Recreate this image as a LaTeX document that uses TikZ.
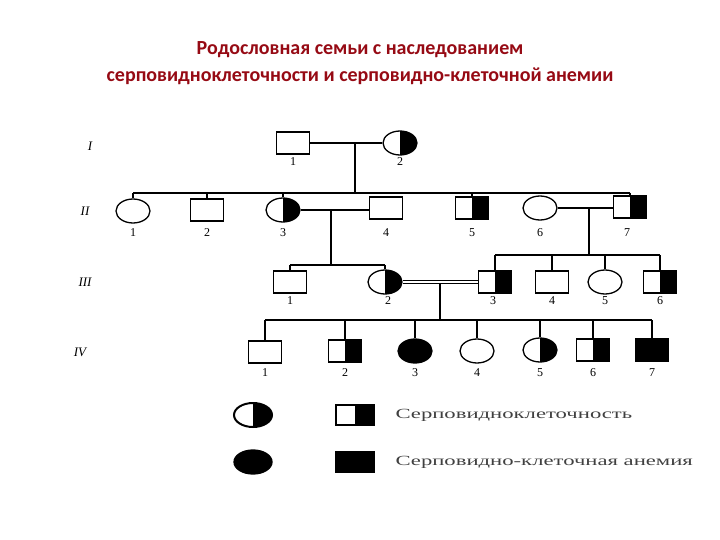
\documentclass[tikz,border=0pt]{standalone}
\usepackage{fontspec}
\setmainfont{Liberation Serif}
\newfontfamily\titlefont{Carlito}
\usetikzlibrary{shapes.geometric}
\begin{document}
\begin{tikzpicture}[x=1pt,y=-1pt,
  sq/.style={draw,line width=1.3pt,rectangle,minimum width=33pt,minimum height=22pt,inner sep=0pt},
  ci/.style={draw,line width=1.3pt,ellipse,minimum width=34pt,minimum height=24pt,inner sep=0pt},
  half/.style={path picture={\fill (path picture bounding box.north) rectangle (path picture bounding box.south east);}},
  full/.style={fill=black},
  num/.style={font=\fontsize{12}{12}\selectfont},
  gen/.style={font=\fontsize{13}{13}\selectfont\itshape},
  ln/.style={line width=1.3pt},
  tk/.style={line width=2pt},
  leg/.style={font=\fontsize{14}{14}\selectfont, text=black!75, anchor=west}]
\useasboundingbox (0,0) rectangle (720,540);
\node[font=\titlefont\bfseries\fontsize{20}{27}\selectfont, text={rgb,255:red,150;green,10;blue,20}, align=center] (title) at (360,63) {Родословная семьи с наследованием\\серповидноклеточности и серповидно-клеточной анемии};
% generation labels
\node[gen] (g1) at (90,146) {I};
\node[gen] (g2) at (85,211) {II};
\node[gen] (g3) at (85,282) {III};
\node[gen] (g4) at (80,352) {IV};
% Gen I
\node[sq] (a1) at (293,143) {};
\node[ci,half] (a2) at (400,143) {};
\node[num] at (293,162) {1};
\node[num] at (400,162) {2};
% Gen II
\node[ci] (b1) at (133,211) {};
\node[sq] (b2) at (207,210) {};
\node[ci,half] (b3) at (283,210) {};
\node[sq] (b4) at (386,208) {};
\node[sq,half] (b5) at (472,208) {};
\node[ci] (b6) at (540,208) {};
\node[sq,half] (b7) at (630,207) {};
\foreach \x/\n in {133/1,207/2,283/3,386/4,472/5,540/6,627/7} \node[num] at (\x,233) {\n};
% Gen III
\node[sq] (c1) at (290,282) {};
\node[ci,half] (c2) at (385,282) {};
\node[sq,half] (c3) at (495,282) {};
\node[sq] (c4) at (552,282) {};
\node[ci] (c5) at (605,282) {};
\node[sq,half] (c6) at (660,282) {};
\foreach \x/\n in {290/1,388/2,493/3,552/4,605/5,660/6} \node[num] at (\x,301) {\n};
% Gen IV
\node[sq] (d1) at (265,352) {};
\node[sq,half] (d2) at (345,351) {};
\node[ci,full] (d3) at (415,351) {};
\node[ci] (d4) at (477,351) {};
\node[ci,half] (d5) at (540,350) {};
\node[sq,half] (d6) at (593,350) {};
\node[sq,full] (d7) at (652,350) {};
\foreach \x/\n in {265/1,345/2,415/3,477/4,540/5,593/6,652/7} \node[num] at (\x,373) {\n};
% connectors gen I
\draw[ln] (a1.east) -- (a2.west);
\coordinate (m1) at (355,143);
\coordinate (s1) at (355,193);
\draw[ln] (m1) -- (s1);
\draw[ln] (b1.north |- s1) -- (b7.north |- s1);
\foreach \t in {b1,b2,b3,b5,b7} \draw[ln] (\t.north |- s1) -- (\t);
% II3 x II4
\draw[tk] (b3.east) -- (b3.east -| b4.west);
\coordinate (m2) at (331,210);
\coordinate (s2) at (331,265);
\draw[tk] (m2) -- (s2);
\draw[ln] (c1.north |- s2) -- (c2.north |- s2);
\foreach \t in {c1,c2} \draw[ln] (\t.north |- s2) -- (\t);
% II6 x II7
\draw[ln] (b6.east) -- (b6.east -| b7.west);
\coordinate (m3) at (589,208);
\coordinate (s3) at (589,255);
\draw[ln] (m3) -- (s3);
\draw[ln] (c3.north |- s3) -- (c6.north |- s3);
\foreach \t in {c3,c4,c5,c6} \draw[ln] (\t.north |- s3) -- (\t);
% consanguineous marriage
\draw[line width=1pt,double,double distance=2pt] (c2.east) -- (c3.west);
\coordinate (m4) at (440,283);
\coordinate (s4) at (440,320);
\draw[tk] (m4) -- (s4);
\draw[ln] (d1.north |- s4) -- (d7.north |- s4);
\foreach \t in {d1,d2,d3,d4,d5,d6,d7} \draw[ln] (\t.north |- s4) -- (\t);
% legend
\node[ci,half,minimum width=38pt,minimum height=24pt,line width=2pt] (l1) at (253,415) {};
\node[sq,half,minimum width=38pt,minimum height=20pt] (l2) at (355,415) {};
\node[ci,full,minimum width=38pt,minimum height=24pt] (l3) at (253,462) {};
\node[sq,full,minimum width=38pt,minimum height=20pt] (l4) at (355,462) {};
\node[leg] (t1) at (392,415) {\scalebox{1.62}[1]{Серповидноклеточность}};
\node[leg] (t2) at (392,462) {\scalebox{1.62}[1]{Серповидно-клеточная анемия}};
\end{tikzpicture}
\end{document}
